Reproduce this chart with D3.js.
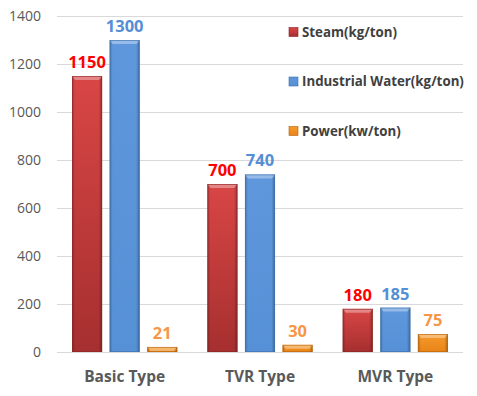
<!DOCTYPE html>
<html><head><meta charset="utf-8">
<script src="https://cdn.jsdelivr.net/npm/d3@7"></script>
<style>body{margin:0;background:#fff}svg{display:block}</style>
</head><body>
<script>
const categories = ["Basic Type", "TVR Type", "MVR Type"];
const seriesNames = ["Steam(kg/ton)", "Industrial Water(kg/ton)", "Power(kw/ton)"];
const steam = [1150, 700, 180];
const water = [1300, 740, 185];
const power = [21, 30, 75];
const yTicks = [0, 200, 400, 600, 800, 1000, 1200, 1400];

const series = [steam, water, power];
const W = 477, H = 396;
const fillTop = ["#d94646", "#5e97dc", "#f59a2c"];
const fillBot = ["#a62f2f", "#5690d6", "#e98417"];
const edge = ["#8a2424", "#3d6fae", "#b8620c"];
const labelColor = ["#ff0000", "#558ed5", "#f79646"];

const svg = d3.select("body").append("svg").attr("width", W).attr("height", H);
const defs = svg.append("defs");
series.forEach((s, i) => {
  const g = defs.append("linearGradient").attr("id", "v" + i).attr("x1", 0).attr("y1", 0).attr("x2", 0).attr("y2", 1);
  g.append("stop").attr("offset", "0%").attr("stop-color", fillTop[i]);
  g.append("stop").attr("offset", "100%").attr("stop-color", fillBot[i]);
  const h = defs.append("linearGradient").attr("id", "h" + i).attr("x1", 0).attr("y1", 0).attr("x2", 1).attr("y2", 0);
  h.append("stop").attr("offset", "0%").attr("stop-color", "#000").attr("stop-opacity", 0.22);
  h.append("stop").attr("offset", "10%").attr("stop-color", "#000").attr("stop-opacity", 0);
  h.append("stop").attr("offset", "88%").attr("stop-color", "#000").attr("stop-opacity", 0);
  h.append("stop").attr("offset", "100%").attr("stop-color", "#000").attr("stop-opacity", 0.28);
});

const y = d3.scaleLinear().domain([0, 1400]).range([352, 16]);
const x0 = d3.scaleBand().domain(categories).range([57, 463]);
const x1 = d3.scaleBand().domain(d3.range(3)).range([0, x0.bandwidth()]).paddingInner(0.2).paddingOuter(0.4);

// gridlines
svg.append("g").selectAll("line").data(yTicks).join("line")
  .attr("x1", 57).attr("x2", 463)
  .attr("y1", d => Math.round(y(d)) + 0.5).attr("y2", d => Math.round(y(d)) + 0.5)
  .attr("stroke", "#d9d9d9").attr("stroke-width", 1);

// y axis labels
const yAxis = d3.axisLeft(y).tickValues(yTicks).tickFormat(d3.format("d")).tickSize(0).tickPadding(0);
const ya = svg.append("g").attr("transform", "translate(41,0)").call(yAxis);
ya.select(".domain").remove();
ya.selectAll("text").attr("font-family", "'Open Sans', sans-serif").attr("font-size", 14).attr("fill", "#595959");

// x axis labels
const xAxis = d3.axisBottom(x0).tickSize(0).tickPadding(0);
const xa = svg.append("g").attr("transform", "translate(0,371)").call(xAxis);
xa.select(".domain").remove();
xa.selectAll("text").attr("font-family", "'Open Sans', sans-serif").attr("font-weight", "bold").attr("font-size", 15.5).attr("fill", "#595959").attr("dy", "0.7em");

// bars
const groups = svg.append("g").selectAll("g").data(categories).join("g")
  .attr("transform", d => `translate(${x0(d)},0)`);
series.forEach((s, i) => {
  const bw = x1.bandwidth();
  groups.each(function(c, ci) {
    const g = d3.select(this);
    const v = s[ci];
    const bx = x1(i), by = y(v), bh = y(0) - y(v);
    g.append("rect").attr("x", bx).attr("y", by).attr("width", bw).attr("height", bh).attr("fill", `url(#v${i})`);
    g.append("rect").attr("x", bx).attr("y", by).attr("width", bw).attr("height", bh).attr("fill", `url(#h${i})`);
    // top bevel
    const bev = Math.min(4, bh);
    g.append("path").attr("d", `M${bx},${by} L${bx + bw},${by} L${bx + bw - 3},${by + bev} L${bx + 3},${by + bev} Z`)
      .attr("fill", "#fff").attr("fill-opacity", 0.35);
    g.append("rect").attr("x", bx + 0.5).attr("y", by + 0.5).attr("width", bw - 1).attr("height", Math.max(0, bh - 1))
      .attr("fill", "none").attr("stroke", edge[i]).attr("stroke-opacity", 0.6).attr("stroke-width", 1);
    g.append("text").attr("x", bx + bw / 2).attr("y", by - 8)
      .attr("text-anchor", "middle").attr("font-family", "'Open Sans', sans-serif").attr("font-weight", "bold")
      .attr("font-size", 16.5).attr("fill", labelColor[i]).text(v);
  });
});

// legend
const leg = svg.append("g").selectAll("g").data(seriesNames).join("g")
  .attr("transform", (d, i) => `translate(289,${32 + i * 49.5})`);
leg.append("rect").attr("x", 0).attr("y", -4.5).attr("width", 9).attr("height", 9)
  .attr("fill", (d, i) => `url(#v${i})`).attr("stroke", (d, i) => edge[i]).attr("stroke-width", 0.6);
leg.append("text").attr("x", 13).attr("y", 0).attr("dy", "0.35em")
  .attr("font-family", "'Open Sans', sans-serif").attr("font-weight", "bold").attr("font-size", 13.3)
  .attr("fill", "#404040").text(d => d);
</script>
</body></html>
